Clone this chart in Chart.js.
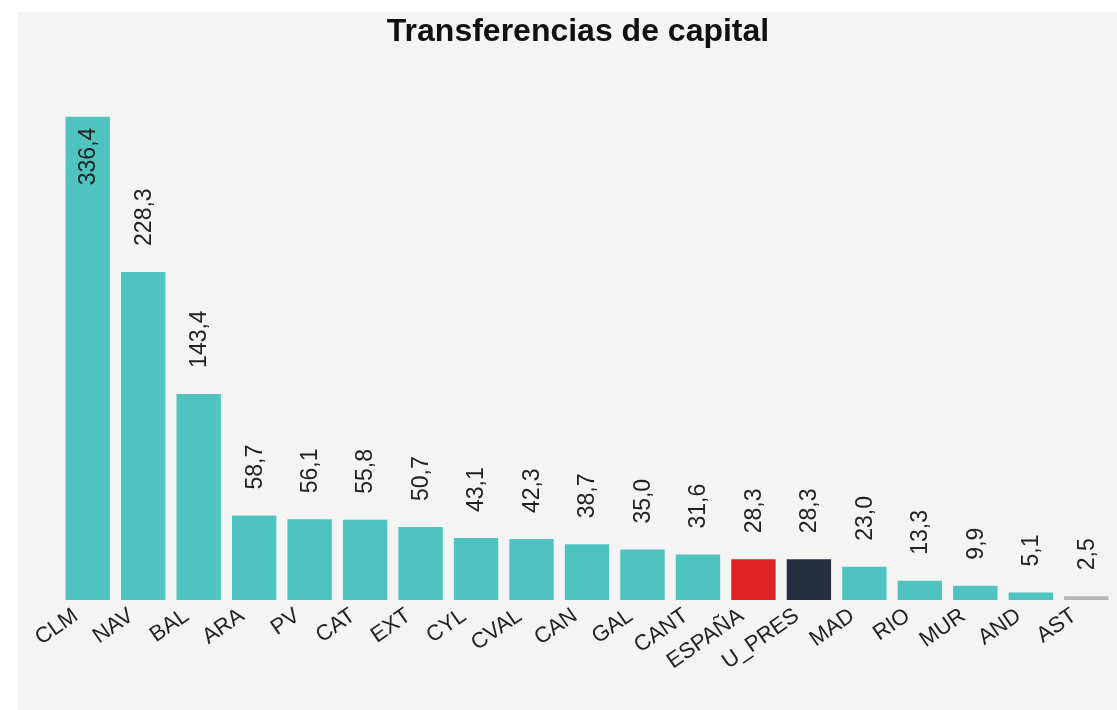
<!DOCTYPE html>
<html>
<head>
<meta charset="utf-8">
<script src="https://cdn.jsdelivr.net/npm/chart.js@4"></script>
<style>
  html, body { margin: 0; padding: 0; background: #ffffff; }
  #wrap {
    position: absolute;
    left: 17px; top: 12px;
    width: 1100px; height: 698px;
    background: #f4f4f4;
  }
</style>
</head>
<body>
<div id="wrap"><canvas id="transferencias"></canvas></div>
<script>
    "use strict";

    const regiones = ["CLM", "NAV", "BAL", "ARA", "PV", "CAT", "EXT", "CYL", "CVAL", "CAN",
        "GAL", "CANT", "ESPAÑA", "U_PRES", "MAD", "RIO", "MUR", "AND", "AST"];
    const valores = [336.4, 228.3, 143.4, 58.7, 56.1, 55.8, 50.7, 43.1, 42.3, 38.7,
        35.0, 31.6, 28.3, 28.3, 23.0, 13.3, 9.9, 5.1, 2.5];
    const colores = ["#4fc3c0", "#4fc3c0", "#4fc3c0", "#4fc3c0", "#4fc3c0", "#4fc3c0", "#4fc3c0",
        "#4fc3c0", "#4fc3c0", "#4fc3c0", "#4fc3c0", "#4fc3c0", "#dc2224", "#252f3f",
        "#4fc3c0", "#4fc3c0", "#4fc3c0", "#4fc3c0", "#b5b5b5"];

    const fuente = '"Liberation Sans", Arial, sans-serif';
    const fmt = v => v.toFixed(1).replace('.', ',');

    // etiquetas verticales con el valor encima de cada barra (dentro si no cabe)
    const etiquetas = {
        id: 'etiquetas',
        afterDatasetsDraw(chart) {
            const ctx = chart.ctx;
            const meta = chart.getDatasetMeta(0);
            ctx.save();
            ctx.font = '23px ' + fuente;
            ctx.fillStyle = '#222222';
            ctx.textBaseline = 'middle';
            meta.data.forEach((bar, i) => {
                const txt = fmt(valores[i]);
                const w = ctx.measureText(txt).width;
                ctx.save();
                if (bar.y - 26 - w < chart.chartArea.top) {
                    ctx.translate(bar.x, bar.y + 11);
                    ctx.rotate(-Math.PI / 2);
                    ctx.textAlign = 'right';
                } else {
                    ctx.translate(bar.x, bar.y - 26);
                    ctx.rotate(-Math.PI / 2);
                    ctx.textAlign = 'left';
                }
                ctx.fillText(txt, 0, 1);
                ctx.restore();
            });
            ctx.restore();
        }
    };

    const ctx = document.getElementById("transferencias").getContext('2d');

    new Chart(ctx, {
        type: 'bar',
        data: {
            labels: regiones,
            datasets: [{
                data: valores,
                backgroundColor: colores,
                hoverBackgroundColor: colores,
                borderWidth: 0,
                categoryPercentage: 1,
                barPercentage: 0.8
            }]
        },
        options: {
            responsive: true,
            maintainAspectRatio: false,
            animation: false,
            layout: {
                padding: { left: 25, right: 3, top: 0, bottom: 32 }
            },
            plugins: {
                legend: { display: false },
                tooltip: { enabled: false },
                title: {
                    display: true,
                    text: 'Transferencias de capital',
                    color: '#111111',
                    font: { family: fuente, size: 32, weight: 'bold' },
                    padding: { top: 1, bottom: 17 }
                }
            },
            scales: {
                x: {
                    grid: { display: false, drawTicks: false },
                    border: { display: false },
                    ticks: {
                        autoSkip: false,
                        maxRotation: 35,
                        minRotation: 35,
                        labelOffset: -12,
                        padding: 3,
                        color: '#222222',
                        font: { family: fuente, size: 22 }
                    }
                },
                y: {
                    min: 0,
                    max: 370,
                    grid: { display: false },
                    border: { display: false },
                    ticks: { display: false },
                    // hueco fijo a la izquierda del área de barras
                    afterFit(scale) { scale.width = 18; }
                }
            }
        },
        plugins: [etiquetas]
    });
</script>
</body>
</html>
